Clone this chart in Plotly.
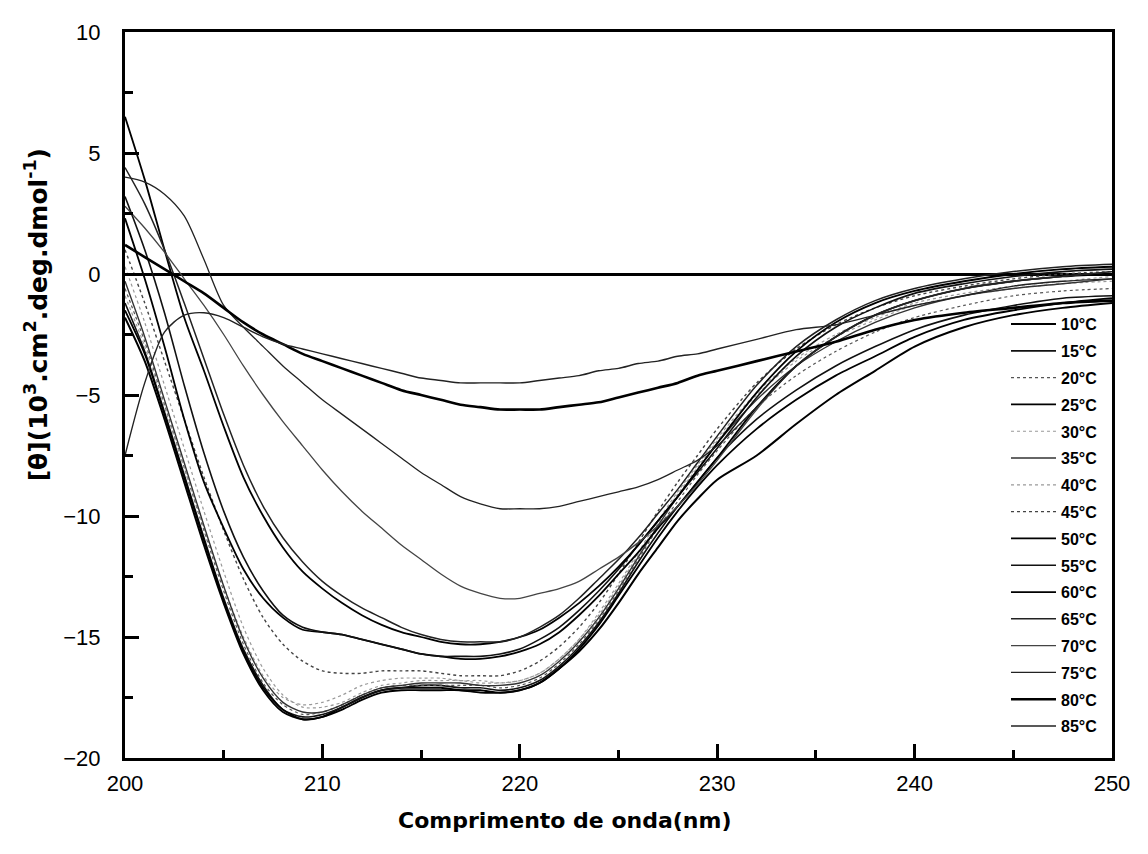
import plotly.graph_objects as go

wavelength = [200, 201, 202, 203, 204, 205, 206, 207, 208, 209, 210, 211, 212, 213, 214, 215,
              216, 217, 218, 219, 220, 221, 222, 223, 224, 225, 226, 227, 228, 229, 230,
              232, 234, 236, 238, 240, 242.5, 245, 247.5, 250]

t10 = [-1.8, -3.6, -6.0, -8.6, -11.2, -13.6, -15.7, -17.2, -18.1, -18.4, -18.3, -17.9, -17.5, -17.2, -17.1, -17.1,
       -17.1, -17.2, -17.2, -17.3, -17.2, -16.9, -16.3, -15.6, -14.7, -13.6, -12.4, -11.3, -10.2, -9.3, -8.5,
       -7.5, -6.2, -5.0, -4.0, -3.0, -2.2, -1.7, -1.4, -1.2]
t15 = [-1.2, -3.2, -5.7, -8.3, -10.9, -13.4, -15.5, -17.0, -18.0, -18.3, -18.2, -17.9, -17.5, -17.2, -17.1, -17.0,
       -17.0, -17.1, -17.1, -17.2, -17.1, -16.8, -16.2, -15.4, -14.4, -13.2, -11.9, -10.7, -9.6, -8.6, -7.6,
       -6.0, -4.8, -3.8, -3.0, -2.3, -1.7, -1.3, -1.0, -0.9]
t20 = [-0.6, -2.8, -5.4, -8.0, -10.6, -13.1, -15.3, -16.9, -17.8, -18.2, -18.1, -17.8, -17.4, -17.1, -17.0, -17.0,
       -17.0, -17.0, -17.0, -17.1, -17.0, -16.7, -16.1, -15.3, -14.3, -13.1, -11.8, -10.5, -9.4, -8.3, -7.3,
       -5.5, -4.2, -3.2, -2.4, -1.8, -1.3, -0.9, -0.7, -0.6]
t25 = [-1.5, -3.3, -5.8, -8.4, -11.0, -13.5, -15.6, -17.1, -18.0, -18.4, -18.3, -18.0, -17.6, -17.3, -17.2, -17.2,
       -17.2, -17.2, -17.3, -17.3, -17.2, -16.9, -16.3, -15.5, -14.5, -13.3, -12.1, -10.9, -9.8, -8.8, -7.9,
       -6.4, -5.2, -4.2, -3.4, -2.6, -1.9, -1.5, -1.2, -1.0]
t30 = [-0.9, -3.0, -5.5, -8.0, -10.5, -12.9, -15.0, -16.6, -17.5, -17.8, -17.7, -17.4, -17.0, -16.8, -16.7, -16.7,
       -16.7, -16.8, -16.8, -16.9, -16.8, -16.5, -15.9, -15.1, -14.1, -12.9, -11.6, -10.3, -9.1, -8.0, -6.9,
       -5.0, -3.6, -2.6, -1.9, -1.3, -0.9, -0.6, -0.4, -0.3]
t35 = [-0.3, -2.6, -5.2, -7.8, -10.4, -12.9, -15.1, -16.7, -17.7, -18.1, -18.1, -17.8, -17.4, -17.1, -17.0, -16.9,
       -16.9, -16.9, -17.0, -17.0, -16.9, -16.6, -16.0, -15.2, -14.2, -13.0, -11.7, -10.4, -9.2, -8.1, -7.0,
       -5.2, -3.8, -2.8, -2.0, -1.4, -0.9, -0.6, -0.4, -0.2]
t40 = [0.3, -2.0, -4.6, -7.2, -9.8, -12.3, -14.6, -16.3, -17.4, -17.9, -17.9, -17.7, -17.3, -17.0, -16.9, -16.8,
       -16.8, -16.8, -16.9, -16.9, -16.8, -16.5, -15.9, -15.1, -14.0, -12.8, -11.5, -10.2, -9.0, -7.9, -6.8,
       -4.9, -3.5, -2.5, -1.8, -1.2, -0.8, -0.5, -0.3, -0.1]
t45 = [1.0, -1.2, -3.6, -6.0, -8.4, -10.6, -12.6, -14.2, -15.3, -16.0, -16.4, -16.5, -16.5, -16.4, -16.4, -16.4,
       -16.5, -16.6, -16.6, -16.6, -16.4, -16.0, -15.4, -14.6, -13.6, -12.4, -11.1, -9.8, -8.6, -7.5, -6.4,
       -4.5, -3.1, -2.1, -1.4, -0.9, -0.5, -0.2, 0.0, 0.1]
t50 = [2.3, -0.2, -3.0, -6.0, -8.6, -10.5, -12.2, -13.4, -14.2, -14.7, -14.8, -14.9, -15.1, -15.3, -15.5, -15.7,
       -15.8, -15.9, -15.9, -15.8, -15.6, -15.3, -14.8, -14.1, -13.3, -12.4, -11.5, -10.5, -9.6, -8.6, -7.6,
       -5.5, -3.8, -2.6, -1.7, -1.1, -0.6, -0.3, -0.1, 0.0]
t55 = [3.2, 1.0, -1.6, -4.6, -7.4, -9.8, -11.7, -13.1, -14.1, -14.6, -14.8, -14.9, -15.1, -15.3, -15.5, -15.7,
       -15.8, -15.8, -15.8, -15.7, -15.5, -15.1, -14.6, -13.9, -13.1, -12.2, -11.2, -10.2, -9.2, -8.2, -7.2,
       -5.1, -3.4, -2.2, -1.4, -0.8, -0.4, -0.1, 0.1, 0.2]
t60 = [6.5, 3.9, 1.0, -1.8, -4.0, -6.3, -8.4, -10.0, -11.3, -12.3, -13.0, -13.6, -14.1, -14.5, -14.8, -15.0,
       -15.2, -15.3, -15.3, -15.2, -15.0, -14.7, -14.2, -13.6, -12.9, -12.1, -11.2, -10.2, -9.2, -8.1, -7.0,
       -4.9, -3.2, -2.0, -1.2, -0.7, -0.3, 0.0, 0.2, 0.3]
t65 = [4.4, 2.9, 1.0, -1.2, -3.5, -5.8, -7.9, -9.6, -10.9, -11.9, -12.7, -13.3, -13.8, -14.2, -14.6, -14.9,
       -15.1, -15.2, -15.2, -15.2, -15.0, -14.6, -14.1, -13.4, -12.6, -11.8, -10.9, -9.9, -8.9, -7.8, -6.7,
       -4.6, -3.0, -1.9, -1.1, -0.6, -0.2, 0.1, 0.3, 0.4]
t70 = [2.8, 1.9, 0.9, -0.2, -1.3, -2.5, -3.8, -5.0, -6.1, -7.1, -8.1, -9.0, -9.8, -10.5, -11.2, -11.8,
       -12.4, -12.9, -13.2, -13.4, -13.4, -13.2, -13.0, -12.7, -12.2, -11.7, -11.1, -10.4, -9.6, -8.7, -7.7,
       -5.6, -3.8, -2.6, -1.7, -1.1, -0.6, -0.3, -0.1, 0.1]
t75 = [4.0, 3.8, 3.3, 2.4, 0.6, -1.3, -2.2, -3.0, -3.8, -4.5, -5.2, -5.8, -6.4, -7.0, -7.6, -8.2,
       -8.7, -9.2, -9.5, -9.7, -9.7, -9.7, -9.6, -9.4, -9.2, -9.0, -8.8, -8.5, -8.1, -7.7, -7.1,
       -5.5, -3.8, -2.6, -1.7, -1.1, -0.6, -0.3, -0.1, 0.1]
t80 = [1.2, 0.7, 0.2, -0.3, -0.8, -1.4, -2.0, -2.5, -2.9, -3.3, -3.6, -3.9, -4.2, -4.5, -4.8, -5.0,
       -5.2, -5.4, -5.5, -5.6, -5.6, -5.6, -5.5, -5.4, -5.3, -5.1, -4.9, -4.7, -4.5, -4.2, -4.0,
       -3.6, -3.2, -2.8, -2.3, -1.9, -1.6, -1.4, -1.2, -1.1]
t85 = [-7.5, -4.5, -2.4, -1.7, -1.6, -1.8, -2.2, -2.6, -2.9, -3.1, -3.3, -3.5, -3.7, -3.9, -4.1, -4.3,
       -4.4, -4.5, -4.5, -4.5, -4.5, -4.4, -4.3, -4.2, -4.0, -3.9, -3.7, -3.6, -3.4, -3.3, -3.1,
       -2.7, -2.3, -2.1, -1.7, -1.3, -0.9, -0.5, -0.3, -0.2]

labels = ["10°C", "15°C", "20°C", "25°C", "30°C", "35°C", "40°C", "45°C",
          "50°C", "55°C", "60°C", "65°C", "70°C", "75°C", "80°C", "85°C"]
series = [t10, t15, t20, t25, t30, t35, t40, t45, t50, t55, t60, t65, t70, t75, t80, t85]

styles = [
    dict(color="#000000", width=2.0, dash="solid"),
    dict(color="#111111", width=1.6, dash="solid"),
    dict(color="#555555", width=1.2, dash="dot"),
    dict(color="#000000", width=1.8, dash="solid"),
    dict(color="#999999", width=1.2, dash="dot"),
    dict(color="#333333", width=1.4, dash="solid"),
    dict(color="#999999", width=1.2, dash="dot"),
    dict(color="#444444", width=1.4, dash="dot"),
    dict(color="#000000", width=1.8, dash="solid"),
    dict(color="#111111", width=1.6, dash="solid"),
    dict(color="#000000", width=1.8, dash="solid"),
    dict(color="#222222", width=1.5, dash="solid"),
    dict(color="#444444", width=1.3, dash="solid"),
    dict(color="#222222", width=1.3, dash="solid"),
    dict(color="#000000", width=2.6, dash="solid"),
    dict(color="#222222", width=1.4, dash="solid"),
]

fig = go.Figure()
for i, (lab, ys) in enumerate(zip(labels, series)):
    fig.add_trace(go.Scatter(
        x=wavelength, y=ys, mode="lines", name=lab,
        line=dict(shape="spline", smoothing=0.8, **styles[i]),
        legendgroup=lab,
    ))

font_family = "Liberation Sans, Arial, sans-serif"
title_family = "DejaVu Sans, Liberation Sans, sans-serif"

fig.update_layout(
    width=1148, height=854,
    margin=dict(l=117, r=44, t=24, b=104, autoexpand=False),
    paper_bgcolor="white", plot_bgcolor="white",
    font=dict(family=font_family, color="black"),
    showlegend=True,
    legend=dict(
        x=0.8926, y=0.621, xanchor="left", yanchor="top",
        bgcolor="rgba(0,0,0,0)", borderwidth=0,
        font=dict(size=16, family=font_family, weight="bold"),
        tracegroupgap=3, itemwidth=45,
    ),
    xaxis=dict(
        range=[200, 250], dtick=10, tick0=200, automargin=False,
        showline=True, linewidth=3, linecolor="black", mirror=True,
        ticks="inside", ticklen=14, tickwidth=2.5, tickcolor="black",
        minor=dict(ticks="inside", ticklen=8, tickwidth=2.5, tickcolor="black", dtick=5),
        showgrid=False, zeroline=False,
        tickfont=dict(size=22), ticklabelstandoff=4,
    ),
    yaxis=dict(
        range=[-20, 10], dtick=5, tick0=0, automargin=False,
        showline=True, linewidth=3, linecolor="black", mirror=True,
        ticks="inside", ticklen=14, tickwidth=2.5, tickcolor="black",
        minor=dict(ticks="inside", ticklen=8, tickwidth=2.5, tickcolor="black", dtick=2.5),
        showgrid=False, zeroline=True, zerolinecolor="black", zerolinewidth=2.5,
        tickfont=dict(size=22), ticklabelstandoff=17,
    ),
    annotations=[
        dict(text="Comprimento de onda(nm)", xref="paper", yref="paper",
             x=0.4458, y=-0.0854, xanchor="center", yanchor="middle", showarrow=False,
             font=dict(size=22, family=title_family, weight="bold")),
        dict(text="[θ](10<sup>3</sup>.cm<sup>2</sup>.deg.dmol<sup>-1</sup>)", xref="paper", yref="paper",
             x=-0.090, y=0.610, xanchor="center", yanchor="middle", showarrow=False, textangle=-90,
             font=dict(size=25, family=title_family, weight="bold")),
    ],
)

fig.write_html("out.html")
